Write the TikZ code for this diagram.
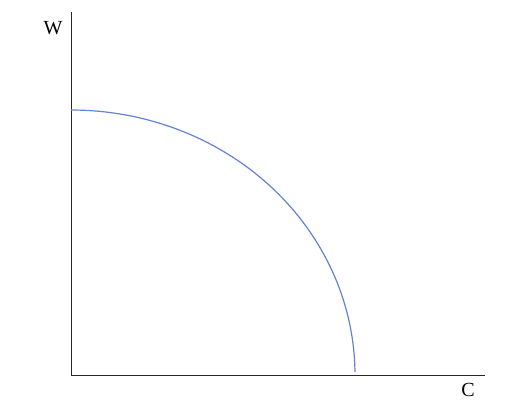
\documentclass[tikz,border=0pt]{standalone}
\usepackage{fontspec}
\setmainfont{Liberation Serif}
\definecolor{curveblue}{RGB}{100,130,212}
\definecolor{axisgray}{RGB}{40,40,40}
\begin{document}
\begin{tikzpicture}[x=0.5pt,y=0.5pt,
  axis/.style={draw=axisgray,line width=0.5pt},
  lbl/.style={font=\fontsize{10}{12}\selectfont,inner sep=0pt},
  curve/.style={draw=curveblue,line width=0.6pt}]
\useasboundingbox (0,0) rectangle (520,408);
\coordinate (o) at (71,33);
\coordinate (ytop) at (71,396);
\coordinate (xend) at (485,33);
\draw[axis] (ytop) -- (o) -- (xend);
\node[lbl] (w) at (53,380) {W};
\node[lbl] (c) at (468,18) {C};
\draw[curve] plot[domain=90:0.65,samples=120,smooth] ({71+284*cos(\x)},{33+265*sin(\x)});
\end{tikzpicture}
\end{document}
